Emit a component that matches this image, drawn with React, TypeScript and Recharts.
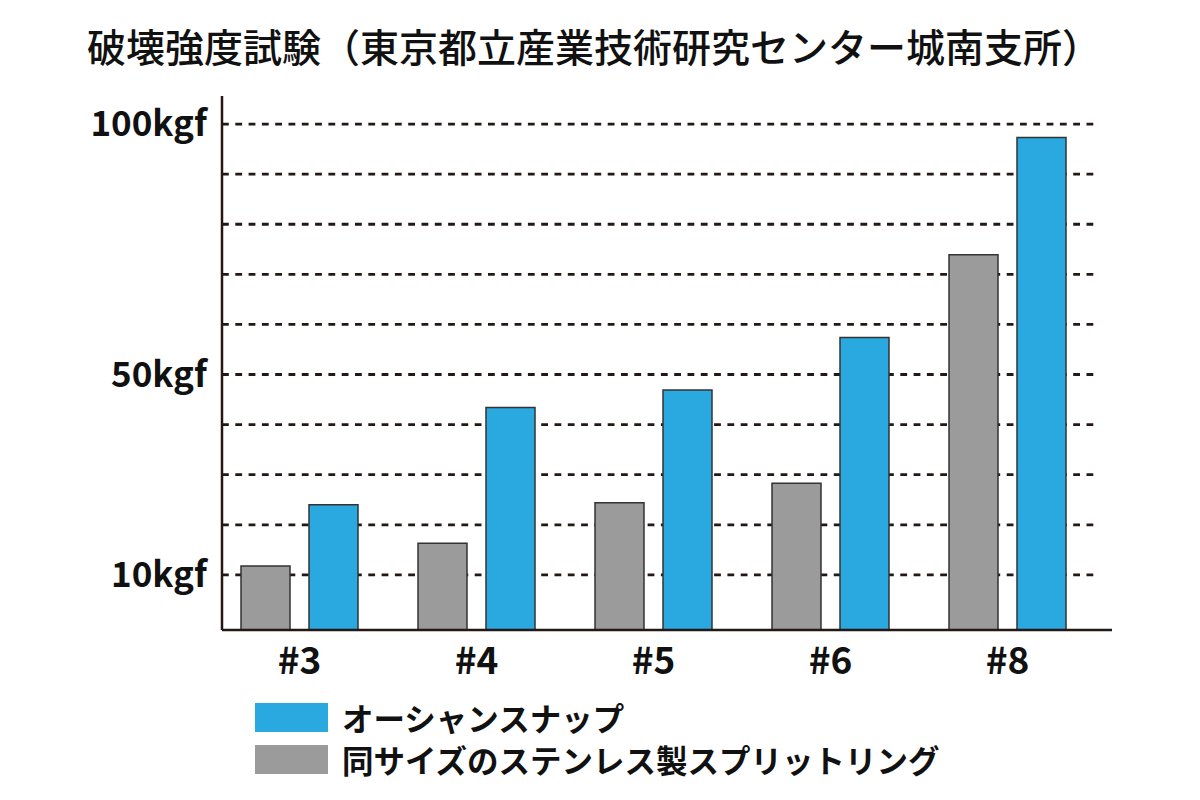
import React from 'react';
import { BarChart, Bar, XAxis, YAxis, CartesianGrid } from 'recharts';

const sizes = ['#3', '#4', '#5', '#6', '#8'];
const oceanSnap = [24.0, 43.4, 46.9, 57.4, 97.3];
const stainless = [11.8, 16.3, 24.4, 28.3, 73.9];
const labelTicks = [10, 50, 100];
const gridValues = [10, 20, 30, 40, 50, 60, 70, 80, 90, 100];

const TITLE = '破壊強度試験（東京都立産業技術研究センター城南支所）';
const BLUE_NAME = 'オーシャンスナップ';
const GRAY_NAME = '同サイズのステンレス製スプリットリング';

const Y_MIN = -1;
const Y_MAX = 105.6;

const INK = '#231815';
const BLUE = '#29a9e0';
const GRAY = '#9b9b9b';
const FONT = '"Noto Sans CJK JP", "Noto Sans", sans-serif';

const data = sizes.map((name, i) => ({
  name,
  blue: oceanSnap[i],
  gray: stainless[i],
}));

export default function App() {
  return (
    <div
      style={{
        position: 'absolute',
        left: 0,
        top: 0,
        width: 1200,
        height: 800,
        background: '#fff',
        fontFamily: FONT,
        color: '#111',
      }}
    >
      <div
        style={{
          position: 'absolute',
          left: 87,
          top: 20,
          fontSize: 39,
          fontWeight: 500,
          lineHeight: '50px',
          whiteSpace: 'nowrap',
        }}
      >
        {TITLE}
      </div>

      <BarChart
        width={1200}
        height={800}
        data={data}
        margin={{ top: 96, right: 88, bottom: 140, left: 72 }}
        barSize={49}
        barGap={19}
        style={{ position: 'absolute', left: 0, top: 0 }}
      >
        <CartesianGrid
          vertical={false}
          horizontalValues={gridValues}
          x={222}
          width={875}
          stroke={INK}
          strokeWidth={2.8}
          strokeDasharray="6.8 6.5"
        />
        <XAxis
          dataKey="name"
          height={30}
          padding={{ left: -11, right: 16 }}
          tickLine={false}
          tickSize={0}
          tickMargin={18}
          axisLine={{ stroke: INK, strokeWidth: 2.5 }}
          tick={{ fill: '#111', fontSize: 37, fontWeight: 700, fontFamily: FONT }}
        />
        <YAxis
          type="number"
          width={150}
          domain={[Y_MIN, Y_MAX]}
          allowDataOverflow
          ticks={labelTicks}
          tickFormatter={(v) => `${v}kgf`}
          tickLine={false}
          tickSize={0}
          tickMargin={15}
          axisLine={{ stroke: INK, strokeWidth: 2.5 }}
          tick={{ fill: '#111', fontSize: 35, fontWeight: 700, fontFamily: FONT }}
        />
        <Bar
          dataKey={(d) => [Y_MIN, d.gray]}
          name={GRAY_NAME}
          fill={GRAY}
          stroke="#333"
          strokeWidth={1.5}
          isAnimationActive={false}
        />
        <Bar
          dataKey={(d) => [Y_MIN, d.blue]}
          name={BLUE_NAME}
          fill={BLUE}
          stroke="#333"
          strokeWidth={1.5}
          isAnimationActive={false}
        />
      </BarChart>

      {[
        { name: BLUE_NAME, color: BLUE, top: 703 },
        { name: GRAY_NAME, color: GRAY, top: 745 },
      ].map((item) => (
        <div
          key={item.name}
          style={{
            position: 'absolute',
            left: 255,
            top: item.top,
            height: 29,
            display: 'flex',
            alignItems: 'center',
            whiteSpace: 'nowrap',
          }}
        >
          <span
            style={{
              display: 'inline-block',
              width: 73,
              height: 29,
              background: item.color,
              marginRight: 14,
            }}
          />
          <span style={{ fontSize: 31.5, fontWeight: 700, lineHeight: '29px' }}>
            {item.name}
          </span>
        </div>
      ))}
    </div>
  );
}
